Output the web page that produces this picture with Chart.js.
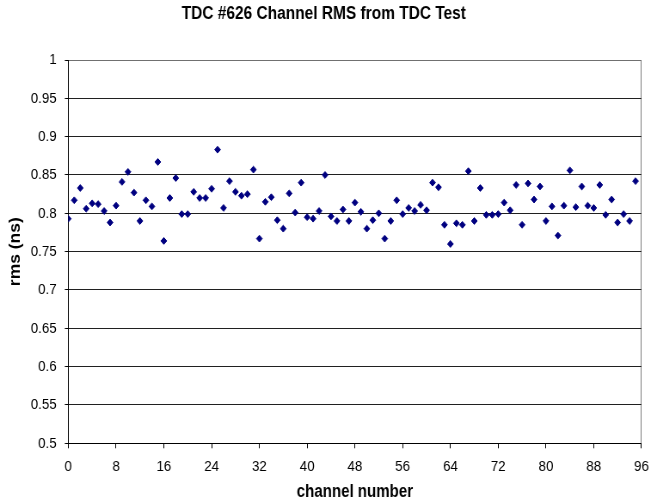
<!DOCTYPE html>
<html>
<head>
<meta charset="utf-8">
<script src="https://cdn.jsdelivr.net/npm/chart.js@4/dist/chart.umd.min.js"></script>
<style>
  html, body { margin: 0; padding: 0; background: #fff; overflow: hidden; }
</style>
</head>
<body>
<canvas id="c" width="764" height="501" style="display:block;width:657px;height:501px;"></canvas>
<script>
const chartTitle = 'TDC #626 Channel RMS from TDC Test';
const xTitle = 'channel number';
const yTitle = 'rms (ns)';

const channels = [
  0,1,2,3,4,5,6,7,8,9,10,11,12,13,14,15,16,17,18,19,20,21,22,23,
  24,25,26,27,28,29,30,31,32,33,34,35,36,37,38,39,40,41,42,43,44,45,46,47,
  48,49,50,51,52,53,54,55,56,57,58,59,60,61,62,63,64,65,66,67,68,69,70,71,
  72,73,74,75,76,77,78,79,80,81,82,83,84,85,86,87,88,89,90,91,92,93,94,95
];
const rms = [
  0.793,0.817,0.833,0.806,0.813,0.812,0.803,0.788,0.810,0.841,0.854,0.827,
  0.790,0.817,0.809,0.867,0.764,0.820,0.846,0.799,0.799,0.828,0.820,0.820,
  0.832,0.883,0.807,0.842,0.828,0.823,0.825,0.857,0.767,0.815,0.821,0.791,
  0.780,0.826,0.801,0.840,0.795,0.793,0.803,0.850,0.796,0.790,0.805,0.790,
  0.814,0.802,0.780,0.791,0.800,0.767,0.790,0.817,0.799,0.807,0.803,0.811,
  0.804,0.840,0.834,0.785,0.760,0.787,0.785,0.855,0.790,0.833,0.798,0.798,
  0.799,0.814,0.804,0.837,0.785,0.839,0.818,0.835,0.790,0.809,0.771,0.810,
  0.856,0.808,0.835,0.810,0.807,0.837,0.798,0.818,0.788,0.799,0.790,0.842
];

const xTickValues = [0, 8, 16, 24, 32, 40, 48, 56, 64, 72, 80, 88, 96];
const xTickLabels = ['0','8','16','24','32','40','48','56','64','72','80','88','96'];
const yTickValues = [0.5, 0.55, 0.6, 0.65, 0.7, 0.75, 0.8, 0.85, 0.9, 0.95, 1];
const yTickLabels = ['0.5','0.55','0.6','0.65','0.7','0.75','0.8','0.85','0.9','0.95','1'];

const FONT = "'Liberation Sans', Arial, sans-serif";

function labelFor(values, labels, v) {
  for (let i = 0; i < values.length; i++) {
    if (Math.abs(values[i] - v) < 1e-9) return labels[i];
  }
  return '';
}

new Chart(document.getElementById('c'), {
  type: 'scatter',
  data: {
    datasets: [{
      data: channels.map((c, i) => ({ x: c, y: rms[i] })),
      pointStyle: 'rectRot',
      pointRadius: 3.4,
      pointHoverRadius: 3.4,
      backgroundColor: '#000080',
      borderColor: '#000080',
      borderWidth: 1
    }]
  },
  options: {
    responsive: false,
    animation: false,
    devicePixelRatio: 1,
    events: [],
    layout: { padding: { left: 0, right: 11, top: 0, bottom: 0 } },
    plugins: {
      legend: { display: false },
      tooltip: { enabled: false },
      title: {
        display: true,
        text: chartTitle,
        color: '#000',
        font: { family: FONT, size: 18, weight: 'bold', lineHeight: 1.2 },
        padding: { top: 3.5, bottom: 34.9 }
      }
    },
    scales: {
      x: {
        type: 'linear',
        min: 0,
        max: 96,
        afterBuildTicks: (s) => { s.ticks = xTickValues.map(v => ({ value: v })); },
        afterFit: (s) => { s.height = 57.7; },
        ticks: {
          color: '#000',
          font: { family: FONT, size: 15.5 },
          padding: 9.4,
          maxRotation: 0,
          autoSkip: false,
          callback: (v) => labelFor(xTickValues, xTickLabels, v)
        },
        grid: {
          drawOnChartArea: true,
          color: (ctx) => (ctx.tick && ctx.tick.value === 96 ? '#808080' : 'rgba(0,0,0,0)'),
          tickColor: '#000',
          tickLength: 5,
          lineWidth: 1
        },
        border: { display: true, color: '#000', width: 1 },
        title: {
          display: true,
          text: xTitle,
          color: '#000',
          font: { family: FONT, size: 17.5, weight: 'bold', lineHeight: 1 },
          padding: { top: 0, bottom: 0 }
        }
      },
      y: {
        type: 'linear',
        min: 0.5,
        max: 1,
        afterBuildTicks: (s) => { s.ticks = yTickValues.map(v => ({ value: v })); },
        afterFit: (s) => { s.width = 79.4; },
        ticks: {
          color: '#000',
          font: { family: FONT, size: 15.5 },
          padding: 9.5,
          autoSkip: false,
          callback: (v) => labelFor(yTickValues, yTickLabels, v)
        },
        grid: {
          color: (ctx) => (ctx.tick && ctx.tick.value === 1 ? '#707070' : '#202020'),
          tickColor: '#000',
          tickLength: 4,
          lineWidth: 1
        },
        border: { display: true, color: '#000', width: 1 },
        title: {
          display: true,
          text: yTitle,
          color: '#000',
          font: { family: FONT, size: 17.5, weight: 'bold', lineHeight: 1.2 },
          padding: { top: 8, bottom: 0 }
        }
      }
    }
  }
});
</script>
</body>
</html>
